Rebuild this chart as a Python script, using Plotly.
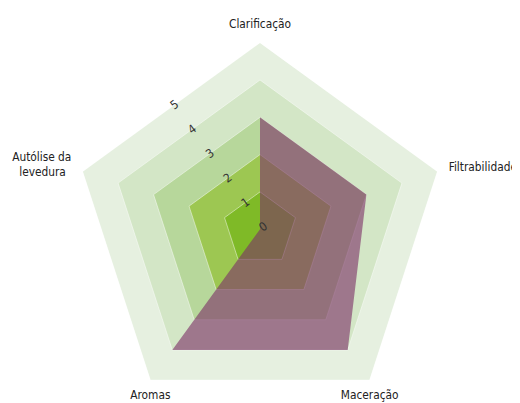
import math
import plotly.graph_objects as go

categories = ["Clarificação", "Filtrabilidade", "Maceração", "Aromas", "Autólise da<br>levedura"]
series_values = [3, 3, 4, 4, 0]
band_levels = [5, 4, 3, 2, 1]
band_colors = ["#e6f0e0", "#d3e6c6", "#b7d79b", "#9dc752", "#7fba27"]
radial_ticks = [0, 1, 2, 3, 4, 5]
r_max = 5

# categories whose labels sit under the chart (drawn as text below their vertex)
bottom_categories = ["Maceração", "Aromas"]

theta_closed = categories + [categories[0]]

fig = go.Figure()
for lvl, col in zip(band_levels, band_colors):
    fig.add_trace(go.Scatterpolar(
        r=[lvl] * (len(categories) + 1), theta=theta_closed,
        fill="toself", fillcolor=col, mode="lines",
        line=dict(color="rgba(255,255,255,0.45)", width=1),
        hoverinfo="skip", showlegend=False))

fig.add_trace(go.Scatterpolar(
    r=series_values + [series_values[0]], theta=theta_closed,
    fill="toself", fillcolor="rgba(124,49,103,0.61)", mode="lines",
    line=dict(color="rgba(124,49,103,0.0)", width=0),
    showlegend=False))

label_font = "DejaVu Sans Condensed, DejaVu Sans, sans-serif"

fig.add_trace(go.Scatterpolar(
    r=[r_max] * len(bottom_categories), theta=bottom_categories,
    mode="markers+text", text=bottom_categories, textposition="bottom center",
    marker=dict(size=14, opacity=0),
    textfont=dict(size=11.8, family=label_font, color="#222"),
    cliponaxis=False, hoverinfo="skip", showlegend=False))

# helper subplot that carries the radial tick labels at the polygon-edge midpoints
fig.add_trace(go.Scatterpolar(r=[0], theta=[0], mode="markers",
                              marker=dict(opacity=0), hoverinfo="skip",
                              showlegend=False, subplot="polar2"))

tick_text = []
for c in categories:
    if c in bottom_categories:
        tick_text.append("")
    elif "<br>" in c:
        tick_text.append(c + "\u00a0\u2009")
    else:
        tick_text.append(c)

W, H = 520, 440
dom_x = [65.5 / W, 438.5 / W]
dom_y = [32.3 / H, 405.3 / H]

fig.update_layout(
    width=W, height=H,
    margin=dict(l=0, r=0, t=0, b=0),
    paper_bgcolor="white",
    font=dict(family=label_font, color="#222", size=12),
    polar=dict(
        domain=dict(x=dom_x, y=dom_y),
        bgcolor="rgba(0,0,0,0)",
        gridshape="linear",
        angularaxis=dict(rotation=90, direction="clockwise", showgrid=False,
                         showline=False, ticks="outside", ticklen=9,
                         tickcolor="rgba(0,0,0,0)",
                         tickvals=categories, ticktext=tick_text,
                         tickfont=dict(size=11.8, family=label_font, color="#222")),
        radialaxis=dict(range=[0, r_max], showgrid=False, showline=False,
                        ticks="", showticklabels=False),
    ),
    polar2=dict(
        domain=dict(x=dom_x, y=dom_y),
        bgcolor="rgba(0,0,0,0)",
        angularaxis=dict(showgrid=False, showline=False, ticks="",
                         showticklabels=False),
        radialaxis=dict(range=[0, r_max / math.cos(math.radians(36))], angle=126,
                        tickvals=radial_ticks, tickangle=90,
                        showgrid=False, showline=False, ticks="",
                        tickfont=dict(size=12, color="#333", family=label_font)),
    ),
)

fig.write_html("out.html")
